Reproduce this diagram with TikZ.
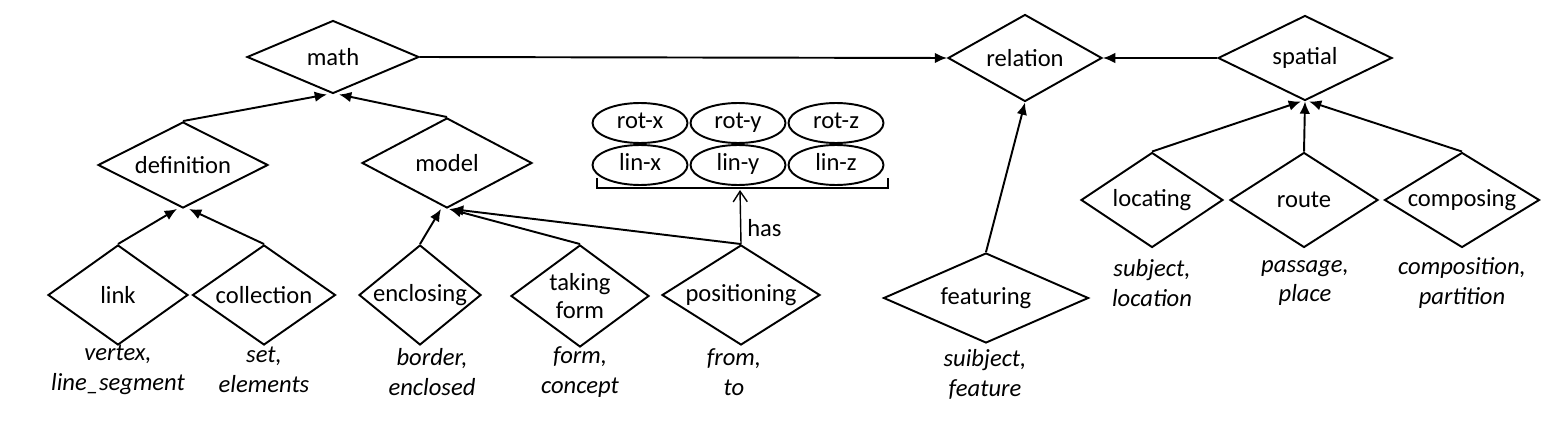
\documentclass[tikz,border=0pt]{standalone}
\usepackage{fontspec}
\setmainfont{Carlito}
\usetikzlibrary{shapes.geometric,arrows.meta,calc}
\begin{document}
\begin{tikzpicture}[x=0.02cm,y=-0.02cm,line width=1.1pt,
  font=\fontsize{14}{16}\selectfont,
  dia/.style={diamond,draw,inner sep=0pt,label={[align=center]center:#1}},
  ell/.style={ellipse,draw,minimum width=1.9cm,minimum height=0.8cm,inner sep=0pt,text height=1.6ex,text depth=0.4ex},
  lab/.style={align=center,font=\fontsize{14}{17}\selectfont\itshape},
  arr/.style={-{Latex[length=7pt,width=6pt]}}]
\useasboundingbox (0,0) rectangle (1557,422);
\node[dia=math,minimum width=3.44cm,minimum height=1.46cm] (math) at (333,57) {};
\node[dia=relation,minimum width=3.08cm,minimum height=1.74cm] (relation) at (1025,58) {};
\node[dia=spatial,minimum width=3.48cm,minimum height=1.70cm] (spatial) at (1305,58) {};
\node[dia=definition,minimum width=3.4cm,minimum height=1.72cm] (definition) at (183,165) {};
\node[dia=model,minimum width=3.4cm,minimum height=1.8cm] (model) at (447,163) {};
\node[dia=link,minimum width=2.8cm,minimum height=2.0cm] (link) at (118,295) {};
\node[dia=collection,minimum width=2.86cm,minimum height=2.0cm] (collection) at (264,295) {};
\node[dia=enclosing,minimum width=2.44cm,minimum height=2.0cm] (enclosing) at (420,295) {};
\node[dia={taking\\form},minimum width=2.76cm,minimum height=2.04cm] (taking) at (580,296) {};
\node[dia=positioning,minimum width=3.16cm,minimum height=2.0cm] (positioning) at (741,295) {};
\node[dia=featuring,minimum width=4.1cm,minimum height=1.8cm] (featuring) at (986,298) {};
\node[dia=locating,minimum width=2.84cm,minimum height=1.9cm] (locating) at (1152,200) {};
\node[dia=route,minimum width=2.96cm,minimum height=1.9cm] (route) at (1304,200) {};
\node[dia=composing,minimum width=3.1cm,minimum height=1.9cm] (composing) at (1462,200) {};
\foreach \n/\x/\y/\t in {rx/640/123/rot-x, ry/738/123/rot-y, rz/836/123/rot-z, lx/640/165/lin-x, ly/738/165/lin-y, lz/836/165/lin-z}
  \node[ell] (\n) at (\x,\y) {\t};
\coordinate (b1) at (597,178); \coordinate (b2) at (888,178);
\draw[line width=0.8pt] (b1) -- ++(0,10) -- ($(b2)+(0,10)$) -- (b2);
\coordinate (bm) at (740,190);
\draw[line width=0.8pt,-{Straight Barb[length=6pt,width=8pt]}] (positioning.north) -- node[right,pos=0.3]{has} (bm);
\node[lab] (l1) at (118,370) {vertex,\\line\_segment};
\node[lab] (l2) at (264,370) {set,\\elements};
\node[lab] (l3) at (432,372) {border,\\enclosed};
\node[lab] (l4) at (580,372) {form,\\concept};
\node[lab] (l5) at (734,372) {from,\\to};
\node[lab] (l6) at (985,374) {suibject,\\feature};
\node[lab] (l7) at (1152,283) {subject,\\location};
\node[lab] (l8) at (1305,283) {passage,\\place};
\node[lab] (l9) at (1462,283) {composition,\\partition};
\draw[arr] (math.east) -- (relation.west);
\draw[arr] (spatial.west) -- (relation.east);
\draw[arr] (definition.north) -- ($(math.south)+(-6,0)$);
\draw[arr] (model.north) -- ($(math.south)+(6,0)$);
\draw[arr] (link.north) -- ($(definition.south)+(-6,0)$);
\draw[arr] (collection.north) -- ($(definition.south)+(6,0)$);
\draw[arr] (enclosing.north) -- ($(model.south)+(-6,0)$);
\draw[arr] (taking.north) -- ($(model.south)+(2,0)$);
\draw[arr] (positioning.north) -- ($(model.south)+(4,0)$);
\draw[arr] (featuring.north) -- (relation.south);
\draw[arr] (locating.north) -- ($(spatial.south)+(-4,0)$);
\draw[arr] (route.north) -- (spatial.south);
\draw[arr] (composing.north) -- ($(spatial.south)+(4,0)$);
\end{tikzpicture}
\end{document}
